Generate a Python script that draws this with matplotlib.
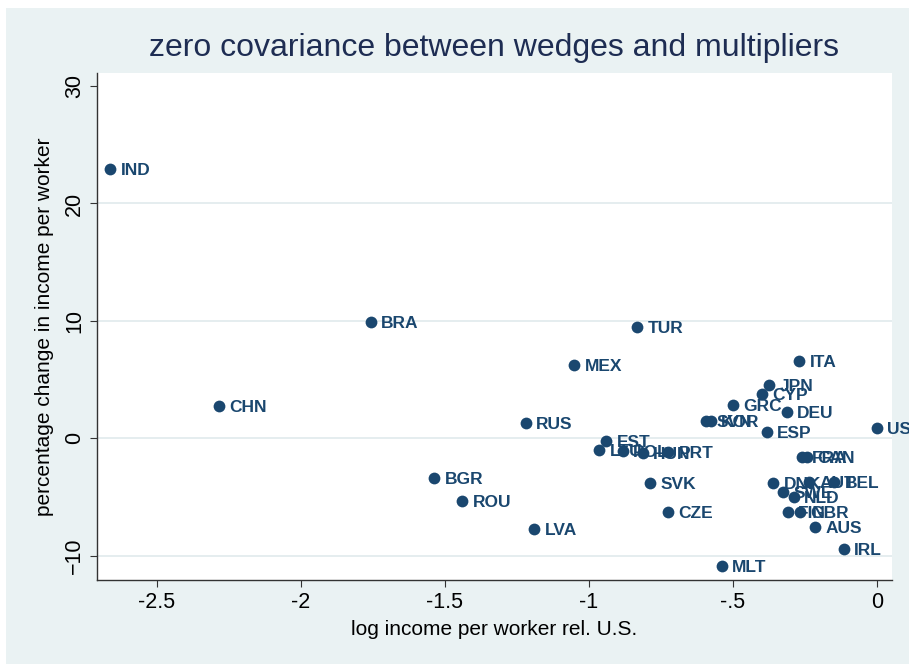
import matplotlib.pyplot as plt
from matplotlib.patches import Rectangle

plt.rcParams['font.family'] = ['Liberation Sans', 'DejaVu Sans']

# countries and values
countries = ['IND', 'BRA', 'CHN', 'TUR', 'MEX', 'RUS', 'BGR', 'ROU', 'LVA',
             'ITA', 'JPN', 'CYP', 'GRC', 'DEU', 'SVN', 'KOR', 'ESP', 'USA',
             'EST', 'LTU', 'POL', 'HUN', 'PRT', 'FRA', 'CAN', 'DNK', 'AUT',
             'BEL', 'SWE', 'NLD', 'FIN', 'GBR', 'AUS', 'IRL', 'MLT', 'SVK', 'CZE']
log_income = [-2.663, -1.757, -2.285, -0.833, -1.052, -1.219, -1.538, -1.441, -1.191,
              -0.271, -0.374, -0.400, -0.501, -0.314, -0.594, -0.577, -0.383, 0.0,
              -0.941, -0.964, -0.883, -0.814, -0.725, -0.261, -0.244, -0.360, -0.236,
              -0.149, -0.325, -0.290, -0.310, -0.267, -0.215, -0.115, -0.539, -0.788, -0.725]
pct_change = [22.94, 9.88, 2.77, 9.50, 6.24, 1.30, -3.39, -5.38, -7.73,
              6.58, 4.54, 3.77, 2.84, 2.20, 1.50, 1.50, 0.56, 0.85,
              -0.20, -1.00, -1.06, -1.28, -1.19, -1.62, -1.62, -3.83, -3.75,
              -3.70, -4.55, -4.97, -6.25, -6.25, -7.53, -9.45, -10.85, -3.83, -6.25]

xticks = [-2.5, -2, -1.5, -1, -.5, 0]
xtick_labels = ['-2.5', '-2', '-1.5', '-1', '-.5', '0']
yticks = [-10, 0, 10, 20, 30]

bg = '#EAF2F3'
navy = '#1A476F'

fig = plt.figure(figsize=(9.09, 6.64), dpi=100, facecolor='white')
fig.patches.append(Rectangle((6 / 909, 0), 1, (664 - 8) / 664,
                             transform=fig.transFigure, facecolor=bg,
                             edgecolor='none', zorder=-1))

ax = fig.add_axes([0.1064, 0.1265, 0.8746, 0.764])
ax.set_facecolor('white')
ax.set_xlim(-2.709, 0.051)
ax.set_ylim(-12.07, 31.14)

for y in [-10, 0, 10, 20]:
    ax.axhline(y, color='#E3ECEE', lw=1.3, zorder=0)

ax.scatter(log_income, pct_change, s=72, color=navy, zorder=3, linewidths=0)
for c, x, y in zip(countries, log_income, pct_change):
    ax.annotate(c, (x, y), xytext=(7.5, 0), textcoords='offset points',
                ha='left', va='center_baseline', fontsize=12.5, fontweight='bold',
                color=navy, annotation_clip=False, zorder=4)

ax.set_xticks(xticks)
ax.set_xticklabels(xtick_labels)
ax.set_yticks(yticks)
ax.tick_params(axis='both', labelsize=15.5, length=5, color='#333333', direction='out')
for lab in ax.get_yticklabels():
    lab.set_rotation(90)
    lab.set_va('center')

for s in ['top', 'right']:
    ax.spines[s].set_visible(False)
for s in ['left', 'bottom']:
    ax.spines[s].set_color('#333333')
    ax.spines[s].set_linewidth(1.0)

ax.set_xlabel('log income per worker rel. U.S.', fontsize=15, labelpad=5)
ax.set_ylabel('percentage change in income per worker', fontsize=15, labelpad=7)
fig.text(0.5434, 0.927, 'zero covariance between wedges and multipliers',
         ha='center', va='center', fontsize=23, color='#1E2D53')

fig.savefig('out.png', dpi=100, facecolor=fig.get_facecolor())
